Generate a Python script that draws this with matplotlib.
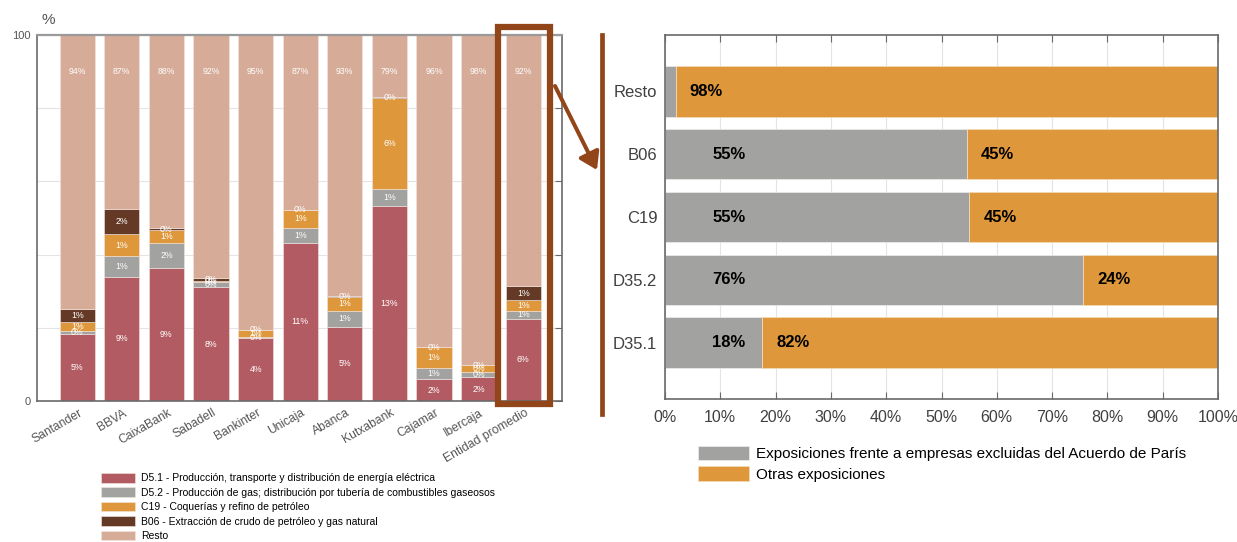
import matplotlib
matplotlib.use("Agg")
import matplotlib.pyplot as plt
from matplotlib.patches import Rectangle, FancyArrowPatch, ArrowStyle
from matplotlib.lines import Line2D
from matplotlib.transforms import ScaledTranslation
import numpy as np

plt.rcParams['font.family'] = ['Liberation Sans', 'DejaVu Sans']

# ---------------- data: left chart ----------------
banks = ["Santander", "BBVA", "CaixaBank", "Sabadell", "Bankinter", "Unicaja",
         "Abanca", "Kutxabank", "Cajamar", "Ibercaja", "Entidad promedio"]
series_names = ["D5.1 - Producción, transporte y distribución de energía eléctrica",
                "D5.2 - Producción de gas; distribución por tubería de combustibles gaseosos",
                "C19 - Coquerías y refino de petróleo",
                "B06 - Extracción de crudo de petróleo y gas natural",
                "Resto"]
d51 = [18.2, 34.0, 36.4, 31.1, 17.3, 43.3, 20.3, 53.4, 5.9, 6.5, 22.5]
d52 = [0.9, 5.7, 6.9, 1.3, 0.1, 4.1, 4.4, 4.5, 3.2, 1.5, 2.1]
c19 = [2.5, 5.8, 3.4, 0.5, 2.0, 4.7, 3.8, 25.0, 5.6, 1.7, 3.0]
b06 = [3.5, 7.0, 0.5, 0.7, 0.1, 0.2, 0.2, 0.1, 0.1, 0.2, 3.8]
resto = [74.9, 47.5, 52.8, 66.4, 80.5, 47.7, 71.3, 17.0, 85.2, 90.1, 68.6]

lab_d51 = ["5%", "9%", "9%", "8%", "4%", "11%", "5%", "13%", "2%", "2%", "6%"]
lab_d52 = ["0%", "1%", "2%", "0%", "0%", "1%", "1%", "1%", "1%", "0%", "1%"]
lab_c19 = ["1%", "1%", "1%", "0%", "1%", "1%", "1%", "6%", "1%", "0%", "1%"]
lab_b06 = ["1%", "2%", "0%", "0%", "0%", "0%", "0%", "0%", "0%", "0%", "1%"]
lab_resto = ["94%", "87%", "88%", "92%", "95%", "87%", "93%", "79%", "96%", "98%", "92%"]
resto_label_y = 90

# ---------------- data: right chart ----------------
cats = ["D35.1", "D35.2", "C19", "B06", "Resto"]
excl = [17.6, 75.6, 55.0, 54.6, 1.9]
otras = [82.4, 24.4, 45.0, 45.4, 98.1]
lab_excl = ["18%", "76%", "55%", "55%", ""]
lab_otras = ["82%", "24%", "45%", "45%", "98%"]
legend_right = ["Exposiciones frente a empresas excluidas del Acuerdo de París",
                "Otras exposiciones"]

colors = ["#B35B62", "#A2A2A0", "#DE973A", "#643A26", "#D6AB98"]
c_grey = "#A2A2A0"
c_orange = "#DE973A"
brown = "#93451A"
spine_c = "#6a6a6a"

W, H = 1237, 542
fig = plt.figure(figsize=(W / 100, H / 100), dpi=100)

# ---------------- left chart ----------------
ax = fig.add_axes([37 / W, (H - 401) / H, (562 - 37) / W, (401 - 35) / H])
x = np.arange(len(banks))
bottom = np.zeros(len(banks))
all_series = [d51, d52, c19, b06, resto]
all_labels = [lab_d51, lab_d52, lab_c19, lab_b06, lab_resto]
for k, (vals, labs) in enumerate(zip(all_series, all_labels)):
    vals = np.array(vals)
    ax.bar(x, vals, width=0.79, bottom=bottom, color=colors[k],
           edgecolor="#f2e6e0", linewidth=0.4, label=series_names[k], zorder=2)
    for i in range(len(banks)):
        yc = resto_label_y if k == 4 else bottom[i] + vals[i] / 2
        ax.text(x[i], yc, labs[i], ha="center", va="center", color="white",
                fontsize=6.3, zorder=3)
    bottom = bottom + vals

ax.set_xlim(-0.9, 10.87)
ax.set_ylim(0, 100)
ax.set_yticks([0, 20, 40, 60, 80, 100])
ax.set_yticklabels(["0", "", "", "", "", "100"])
ax.yaxis.grid(True, color="#e4e4e4", linewidth=0.8, zorder=0)
ax.set_axisbelow(True)
ax.tick_params(axis="y", left=False, right=True, direction="in", length=5,
               labelsize=8, labelcolor="#555555", pad=4.5, color=spine_c)
ax.set_xticks(x)
ax.set_xticklabels(banks, rotation=30, ha="right", va="center",
                   rotation_mode="anchor", fontsize=8.7, color="#555555")
ax.tick_params(axis="x", length=0, pad=8)
for lbl in ax.get_xticklabels():
    lbl.set_transform(lbl.get_transform() + ScaledTranslation(0.04, 0, fig.dpi_scale_trans))
for s in ax.spines.values():
    s.set_color(spine_c)
    s.set_linewidth(1.2)
ax.spines["top"].set_color("#9a9a9a")
ax.spines["top"].set_linewidth(1.6)
fig.text(41 / W, 1 - 20.5 / H, "%", fontsize=11, color="#555555", ha="left", va="center")

leg1 = ax.legend(loc="upper left", bbox_to_anchor=(101 / W, 1 - 473 / H),
                 bbox_transform=fig.transFigure, frameon=False, fontsize=7.5,
                 handlelength=3.27, handleheight=1.06, handletextpad=0.55,
                 labelspacing=0.38, borderpad=0, borderaxespad=0)

# ---------------- right chart ----------------
ax2 = fig.add_axes([665 / W, (H - 399) / H, 553 / W, 364 / H])
y = np.arange(len(cats))
ax2.barh(y, excl, height=0.8, color=c_grey, edgecolor="#e8e8e8", linewidth=0.6,
         label=legend_right[0], zorder=2)
ax2.barh(y, otras, left=excl, height=0.8, color=c_orange, edgecolor="#f3d9b5",
         linewidth=0.6, label=legend_right[1], zorder=2)
for i in range(len(cats)):
    if lab_excl[i]:
        ax2.text(8.55, y[i], lab_excl[i], ha="left", va="center", fontsize=12,
                 fontweight="bold", color="black", zorder=3)
    ax2.text(excl[i] + 2.55, y[i], lab_otras[i], ha="left", va="center", fontsize=12,
             fontweight="bold", color="black", zorder=3)
ax2.set_xlim(0, 100)
ax2.set_ylim(-0.9, 4.9)
ax2.set_xticks(np.arange(0, 101, 10))
ax2.set_xticklabels([f"{v}%" for v in range(0, 101, 10)])
ax2.set_yticks(y)
ax2.set_yticklabels(cats)
ax2.xaxis.grid(True, color="#e4e4e4", linewidth=0.8, zorder=0)
ax2.set_axisbelow(True)
ax2.tick_params(axis="x", direction="in", length=5, top=True, bottom=True,
                labelsize=11.5, labelcolor="#404040", pad=8, color=spine_c)
ax2.tick_params(axis="y", length=0, labelsize=12, labelcolor="#404040", pad=5.5)
for s in ax2.spines.values():
    s.set_color(spine_c)
    s.set_linewidth(1.2)

leg2 = ax2.legend(loc="upper left", bbox_to_anchor=(698 / W, 1 - 446 / H),
                  bbox_transform=fig.transFigure, frameon=False, fontsize=11,
                  handlelength=3.33, handleheight=1.05, handletextpad=0.44,
                  labelspacing=0.33, borderpad=0, borderaxespad=0)

# ---------------- annotations overlay ----------------
ov = fig.add_axes([0, 0, 1, 1], zorder=10)
ov.set_xlim(0, W)
ov.set_ylim(H, 0)
ov.axis("off")
ov.patch.set_alpha(0)
ov.add_patch(Rectangle((497.5, 27), 52.2, 377, fill=False, edgecolor=brown,
                       linewidth=4.5, joinstyle="miter"))
ov.add_line(Line2D([601.7, 601.7], [35, 414], color=brown, linewidth=3.4))
ov.add_patch(FancyArrowPatch((555, 86), (597, 170),
                             arrowstyle=ArrowStyle("-|>", head_length=0.85, head_width=0.55),
                             mutation_scale=12, color=brown, linewidth=2.9,
                             shrinkA=0, shrinkB=0))

fig.savefig("out.png", dpi=100)
